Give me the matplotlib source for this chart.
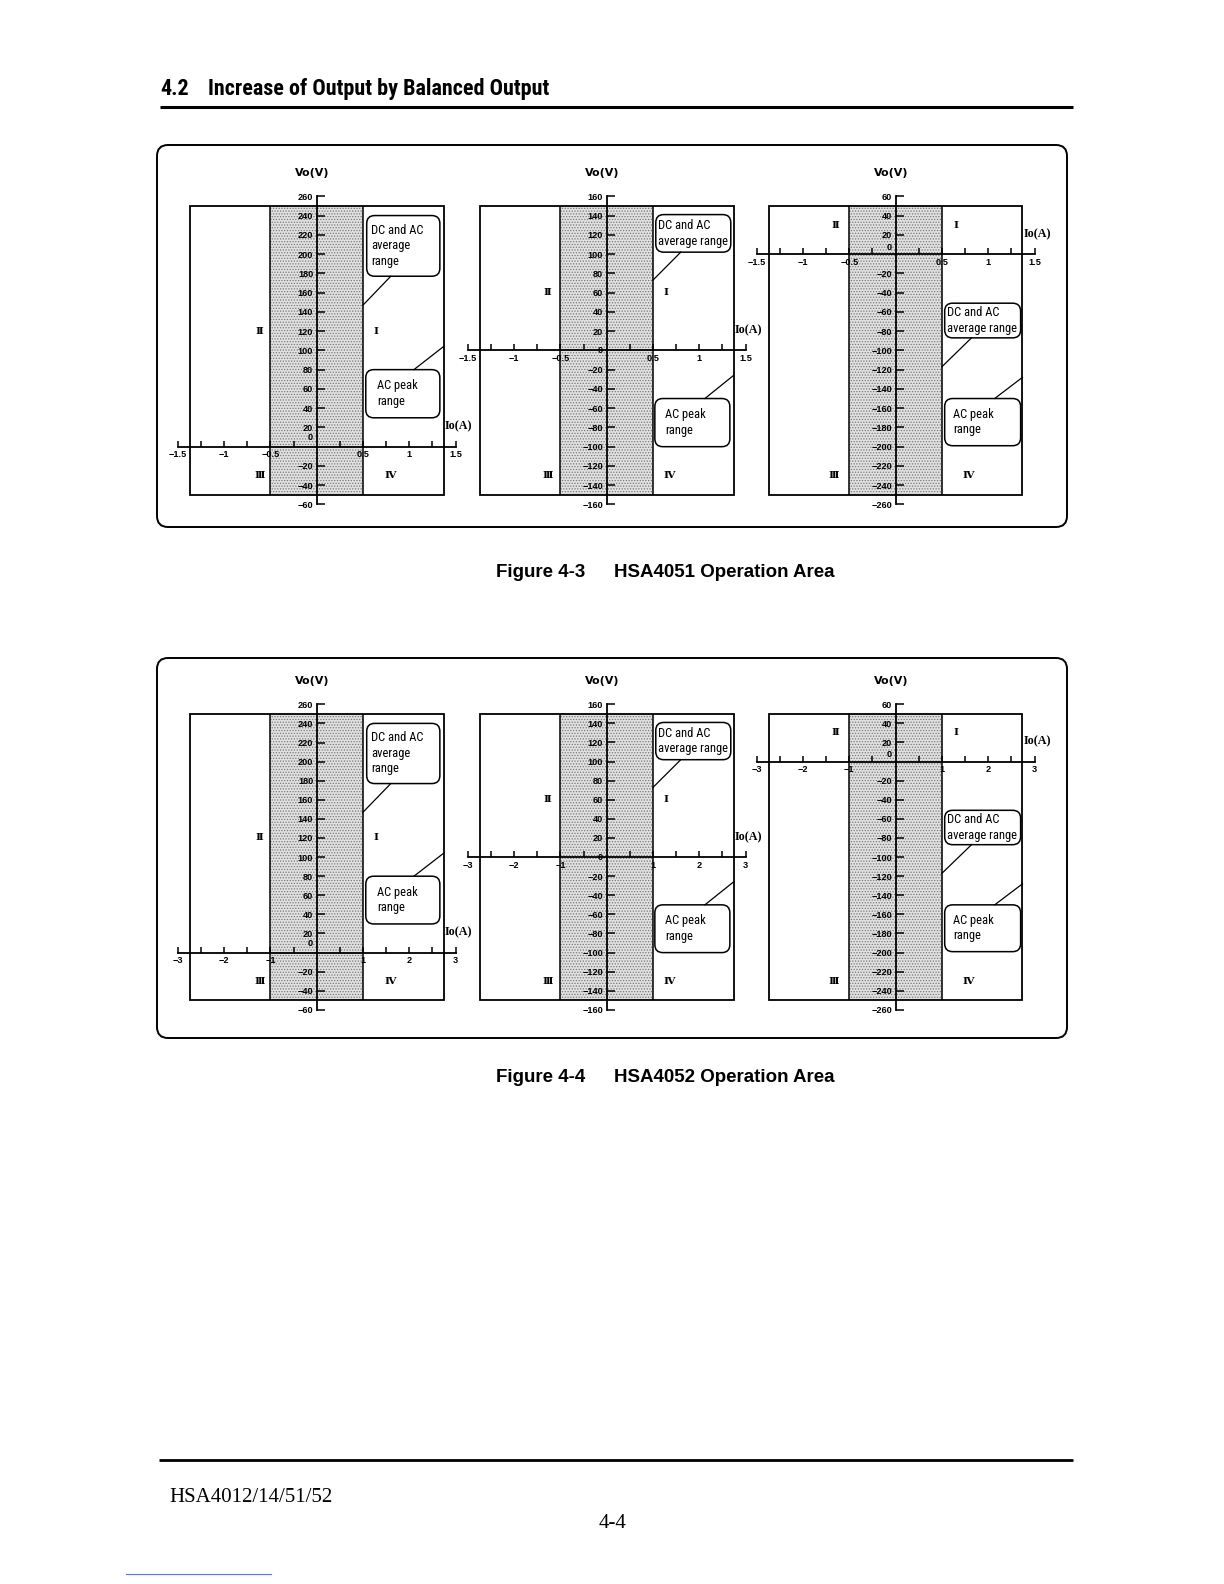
import numpy as np
import matplotlib
matplotlib.use("Agg")
import matplotlib.pyplot as plt
from matplotlib.patches import Rectangle, FancyBboxPatch
from matplotlib.lines import Line2D
from matplotlib.transforms import Affine2D
from matplotlib import font_manager

# ---------------- data ----------------
figure_numbers = ["4-3", "4-4"]
model_names = ["HSA4051", "HSA4052"]
io_axis_max = [1.5, 3.0]                       # A, extent of Io axis
io_major_ticks = [[-1.5, -1, -0.5, 0.5, 1, 1.5], [-3, -2, -1, 1, 2, 3]]
io_tick_labels = [["\u22121.5", "\u22121", "\u22120.5", "0.5", "1", "1.5"],
                  ["\u22123", "\u22122", "\u22121", "1", "2", "3"]]
io_minor_ticks = [[-1.25, -0.75, -0.25, 0.25, 0.75, 1.25],
                  [-2.5, -1.5, -0.5, 0.5, 1.5, 2.5]]
io_dc_limit = [0.5, 1.0]        # DC and AC average range (A)
io_peak_limit = [1.37, 2.74]    # AC peak range (A)

vo_ticks_p1 = [-60, -40, -20, 20, 40, 60, 80, 100, 120, 140, 160, 180, 200, 220, 240, 260]
vo_ticks_p2 = [-160, -140, -120, -100, -80, -60, -40, -20, 20, 40, 60, 80, 100, 120, 140, 160]
vo_ticks_p3 = [-260, -240, -220, -200, -180, -160, -140, -120, -100, -80, -60, -40, -20, 20, 40, 60]
vo_ticks = [vo_ticks_p1, vo_ticks_p2, vo_ticks_p3]
vo_axis_top = [260, 160, 60]
vo_axis_bottom = [-60, -160, -260]
vo_range_top = [250, 150, 50]
vo_range_bottom = [-50, -150, -250]

quadrant_names = ["\u2160", "\u2161", "\u2162", "\u2163"]
dc_texts = ["DC and AC\naverage\nrange", "DC and AC\naverage range", "DC and AC\naverage range"]
ac_text = "AC peak\nrange"

# ---------------- layout (pixels / reference units) ----------------
W, H = 1224, 1584
PANEL_CX = [316.7, 606.7, 895.6]
FIG_TOP_LABEL_Y = [196.3, 704.3]
PX_PER_V = [0.963, 0.955]
PX_PER_UNIT = 92.6  # px per reference unit (1.5 A for Fig 4-3)

LAYOUT = [
    dict(dc_box=(0.54, 177, 1.33, 240), dc_tx=0.59, dc_lead=(147, 0.80),
         ac_box=(0.53, 30, 1.33, 80), ac_tx=0.65, ac_lead=(104, 1.05),
         quad=[(0.64, 120), (-0.62, 120), (-0.62, -30), (0.79, -30)], zero_dy=9),
    dict(dc_box=(0.53, 102, 1.34, 141), dc_tx=0.55, dc_lead=(73, 0.80),
         ac_box=(0.52, -100, 1.33, -50), ac_tx=0.63, ac_lead=(-26, 1.06),
         quad=[(0.64, 60), (-0.64, 60), (-0.64, -130), (0.68, -130)], zero_dy=0),
    dict(dc_box=(0.53, -87, 1.35, -51), dc_tx=0.555, dc_lead=(-117, 0.82),
         ac_box=(0.53, -199, 1.35, -150), ac_tx=0.62, ac_lead=(-128, 1.07),
         quad=[(0.65, 30), (-0.65, 30), (-0.67, -230), (0.78, -230)], zero_dy=7),
]

# ---------------- fonts ----------------
ttf = font_manager.fontManager.ttflist
names = {f.name for f in ttf}


def pick_condensed():
    for nm in ["Liberation Sans Narrow", "Arial Narrow", "Roboto Condensed",
               "Open Sans Condensed", "Noto Sans Condensed", "DejaVu Sans Condensed"]:
        if nm in names:
            return dict(family=nm)
    for nm in ["Noto Sans", "DejaVu Sans", "Roboto", "Open Sans"]:
        for f in ttf:
            if f.name == nm and str(f.stretch) in ("condensed", "semi-condensed"):
                return dict(family=nm, stretch=str(f.stretch))
    return None


COND = pick_condensed()
if COND is not None:
    TITLE_FONT = dict(COND, size=15.9)
    CALLOUT_FONT = dict(COND, size=9.0)
else:
    TITLE_FONT = dict(family="Liberation Sans", size=13.4)
    CALLOUT_FONT = dict(family="Liberation Sans", size=8.0)

plt.rcParams["font.family"] = ["Liberation Sans", "DejaVu Sans"]
plt.rcParams["hatch.linewidth"] = 0.6

TICK_SIZE = 6.6

fig = plt.figure(figsize=(W / 100, H / 100), dpi=100)
fig.patch.set_facecolor("white")
pix = Affine2D().scale(1.0 / W, -1.0 / H).translate(0, 1) + fig.transFigure


def ptext(x, y, s, **kw):
    fig.text(x / W, 1 - y / H, s, **kw)


def pline(xs, ys, **kw):
    fig.add_artist(Line2D(xs, ys, transform=pix, **kw))


# header
ptext(160.7, 95, "4.2", fontweight="bold", va="baseline", **TITLE_FONT)
ptext(208.3, 95, "Increase of Output by Balanced Output", fontweight="bold",
      va="baseline", **TITLE_FONT)
pline([160, 1073], [106.7, 106.7], color="black", lw=2.2, solid_capstyle="butt")

# outer boxes
for (y0, y1) in [(145, 527), (658, 1038)]:
    fig.add_artist(FancyBboxPatch((157, y0), 910, y1 - y0,
                                  boxstyle="round,pad=0,rounding_size=11",
                                  transform=pix, fill=False, ec="black", lw=1.4))

for f in range(2):
    xmax = io_axis_max[f]
    k = xmax / 1.5
    pxA = PX_PER_UNIT / k
    sy = PX_PER_V[f]
    for p in range(3):
        L = LAYOUT[p]
        top_v, bot_v = vo_axis_top[p], vo_axis_bottom[p]
        ox = PANEL_CX[p]
        oy = FIG_TOP_LABEL_Y[f] + top_v * sy
        xl = (-1.15 * xmax, 1.15 * xmax)
        yl = (bot_v - 25, top_v + 40)
        left = ox + xl[0] * pxA
        right = ox + xl[1] * pxA
        top = oy - yl[1] * sy
        bottom = oy - yl[0] * sy
        ax = fig.add_axes([left / W, 1 - bottom / H, (right - left) / W, (bottom - top) / H])
        ax.set_xlim(xl)
        ax.set_ylim(yl)
        ax.patch.set_alpha(0)

        for s in ["top", "right"]:
            ax.spines[s].set_visible(False)
        ax.spines["left"].set_position(("data", 0))
        ax.spines["bottom"].set_position(("data", 0))
        ax.spines["left"].set_bounds(bot_v, top_v)
        ax.spines["bottom"].set_bounds(-xmax, xmax)
        for s in ["left", "bottom"]:
            ax.spines[s].set_linewidth(1.3)
            ax.spines[s].set_zorder(4)

        ax.set_xticks(io_major_ticks[f], io_tick_labels[f])
        ax.set_xticks(io_minor_ticks[f], minor=True)
        ax.set_yticks(vo_ticks[p], [str(v).replace("-", "\u2212") for v in vo_ticks[p]])
        ax.tick_params(axis="x", which="both", direction="in", length=4.2, width=1.1, pad=2.5)
        ax.tick_params(axis="y", which="both", direction="in", length=6, width=1.1, pad=2.5)
        for lab in ax.get_xticklabels() + ax.get_yticklabels():
            lab.set_fontweight("bold")
            lab.set_fontsize(TICK_SIZE)
        ax.text(-3.5 / pxA, L["zero_dy"] / sy, "0", ha="right", va="center",
                fontsize=TICK_SIZE, fontweight="bold")

        dc = io_dc_limit[f]
        pk = io_peak_limit[f]
        vt, vb = vo_range_top[p], vo_range_bottom[p]
        ax.add_patch(Rectangle((-dc, vb), 2 * dc, vt - vb, fc="#e1e1e1", ec="#777777",
                               hatch="......", lw=0, zorder=0.5))
        ax.vlines([-dc, dc], vb, vt, colors="black", lw=1.1, zorder=1.5)
        ax.add_patch(Rectangle((-pk, vb), 2 * pk, vt - vb, fill=False, ec="black",
                               lw=1.3, zorder=1.6))

        for (qx, qy), qn in zip(L["quad"], quadrant_names):
            ax.text(qx * k, qy, qn, ha="center", va="center", fontsize=7.5,
                    fontweight="bold", family=["DejaVu Serif", "Noto Sans CJK JP"])

        ax.text(-0.05 * k, top_v + 23 / sy, "Vo(V)", ha="center", va="center",
                fontsize=8, fontweight="bold", family="DejaVu Sans")
        ax.text(1.385 * k, 21, "Io(A)", ha="left", va="center", fontsize=8.7,
                fontweight="bold", family="Liberation Serif")

        asp = pxA / sy
        rr = 8 / pxA
        x0, y0, x1, y1 = L["dc_box"]
        ax.add_patch(FancyBboxPatch((x0 * k, y0), (x1 - x0) * k, y1 - y0,
                                    boxstyle=f"round,pad=0,rounding_size={rr}",
                                    mutation_aspect=asp, fc="white", ec="black", lw=1.1, zorder=3))
        ax.text(L["dc_tx"] * k, (y0 + y1) / 2, dc_texts[p], ha="left", va="center",
                linespacing=1.25, zorder=4, **CALLOUT_FONT)
        ly, lx = L["dc_lead"]
        ax.plot([dc, lx * k], [ly, y0], color="black", lw=0.9, zorder=3)

        x0, y0, x1, y1 = L["ac_box"]
        ax.add_patch(FancyBboxPatch((x0 * k, y0), (x1 - x0) * k, y1 - y0,
                                    boxstyle=f"round,pad=0,rounding_size={rr}",
                                    mutation_aspect=asp, fc="white", ec="black", lw=1.1, zorder=3))
        ax.text(L["ac_tx"] * k, (y0 + y1) / 2, ac_text, ha="left", va="center",
                linespacing=1.25, zorder=4, **CALLOUT_FONT)
        ly, lx = L["ac_lead"]
        ax.plot([pk, lx * k], [ly, y1], color="black", lw=0.9, zorder=3)

for f, base in enumerate([577.5, 1082.5]):
    ptext(496, base, f"Figure {figure_numbers[f]}", fontsize=13.5, fontweight="bold", va="baseline")
    ptext(614, base, f"{model_names[f]} Operation Area", fontsize=13.5, fontweight="bold",
          va="baseline")

pline([159, 1073], [1460, 1460], color="black", lw=2.0, solid_capstyle="butt")
ptext(169, 1501.7, "HSA4012/14/51/52", fontsize=15, family="Liberation Serif", va="baseline")
ptext(613, 1528.3, "4-4", fontsize=15, family="Liberation Serif", va="baseline", ha="center")
pline([126, 271], [1574, 1574], color="#5a78d0", lw=0.8)

fig.savefig("out.png", dpi=100, facecolor="white")
